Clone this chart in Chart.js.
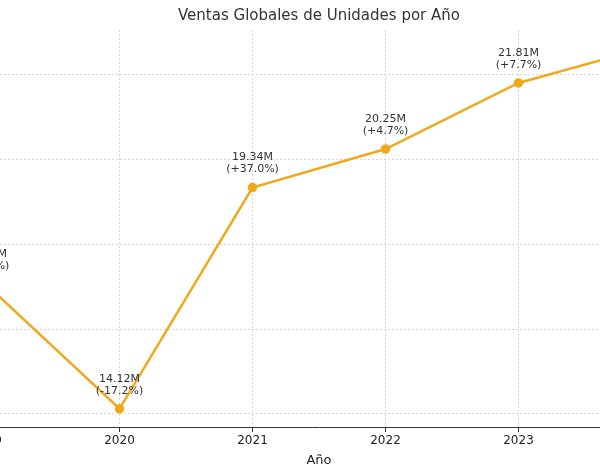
<!DOCTYPE html>
<html><head><meta charset="utf-8">
<script src="https://cdn.jsdelivr.net/npm/chart.js"></script>
<style>html,body{margin:0;padding:0;overflow:hidden;background:#fff;width:600px;height:470px}
#wrap{position:absolute;left:-131.5px;top:0;width:900px;height:470px}</style>
</head><body><div id="wrap"><canvas id="c" width="900" height="470"></canvas></div>
<script>
const years=[2019,2020,2021,2022,2023,2024];
const sales=[17.05,14.12,19.34,20.25,21.81,22.68];
const growth=['(+5.2%)','(-17.2%)','(+37.0%)','(+4.7%)','(+7.7%)','(+4.0%)'];
const labelPlugin={id:'lbl',afterDatasetsDraw(ch){
  const ctx=ch.ctx,m=ch.getDatasetMeta(0);
  ctx.save();ctx.font='11px "DejaVu Sans"';ctx.fillStyle='#333';ctx.textAlign='center';ctx.textBaseline='middle';
  m.data.forEach((p,i)=>{ctx.fillText(sales[i].toFixed(2)+'M',p.x,p.y-30);ctx.fillText(growth[i],p.x,p.y-18);});
  ctx.restore();}};
new Chart(document.getElementById('c'),{type:'line',
 data:{datasets:[{data:years.map((y,i)=>({x:y,y:sales[i]})),borderColor:'#f0a81c',backgroundColor:'#f0a81c',borderWidth:2.5,pointRadius:3.5,tension:0}]},
 options:{responsive:false,animation:false,
  layout:{padding:{left:51,right:51,top:2,bottom:2}},
  plugins:{legend:{display:false},tooltip:{enabled:false},
   title:{display:true,text:'Ventas Globales de Unidades por Año',color:'#333',font:{family:'DejaVu Sans',size:15,weight:'normal'},padding:{top:5,bottom:5}}},
  scales:{
   x:{type:'linear',min:2018.5,max:2024.5,afterBuildTicks(s){s.ticks=years.map(v=>({value:v}));},
    ticks:{color:'#222',font:{family:'DejaVu Sans',size:12},callback:v=>String(v),padding:2},
    grid:{color:'#d6d6d6',tickColor:'#333',tickLength:5,drawTicks:true},border:{color:'#333',dash:[2,2],width:1},
    title:{display:true,text:'Año',color:'#222',font:{family:'DejaVu Sans',size:13},padding:{top:2,bottom:0}}},
   y:{min:13.69,max:23.06,display:true,afterBuildTicks(s){s.ticks=[14,16,18,20,22].map(v=>({value:v}));},
    ticks:{display:false},grid:{color:'#d6d6d6',drawTicks:false},border:{display:false,dash:[2,2]}}
  }},
 plugins:[labelPlugin]
});
</script></body></html>
